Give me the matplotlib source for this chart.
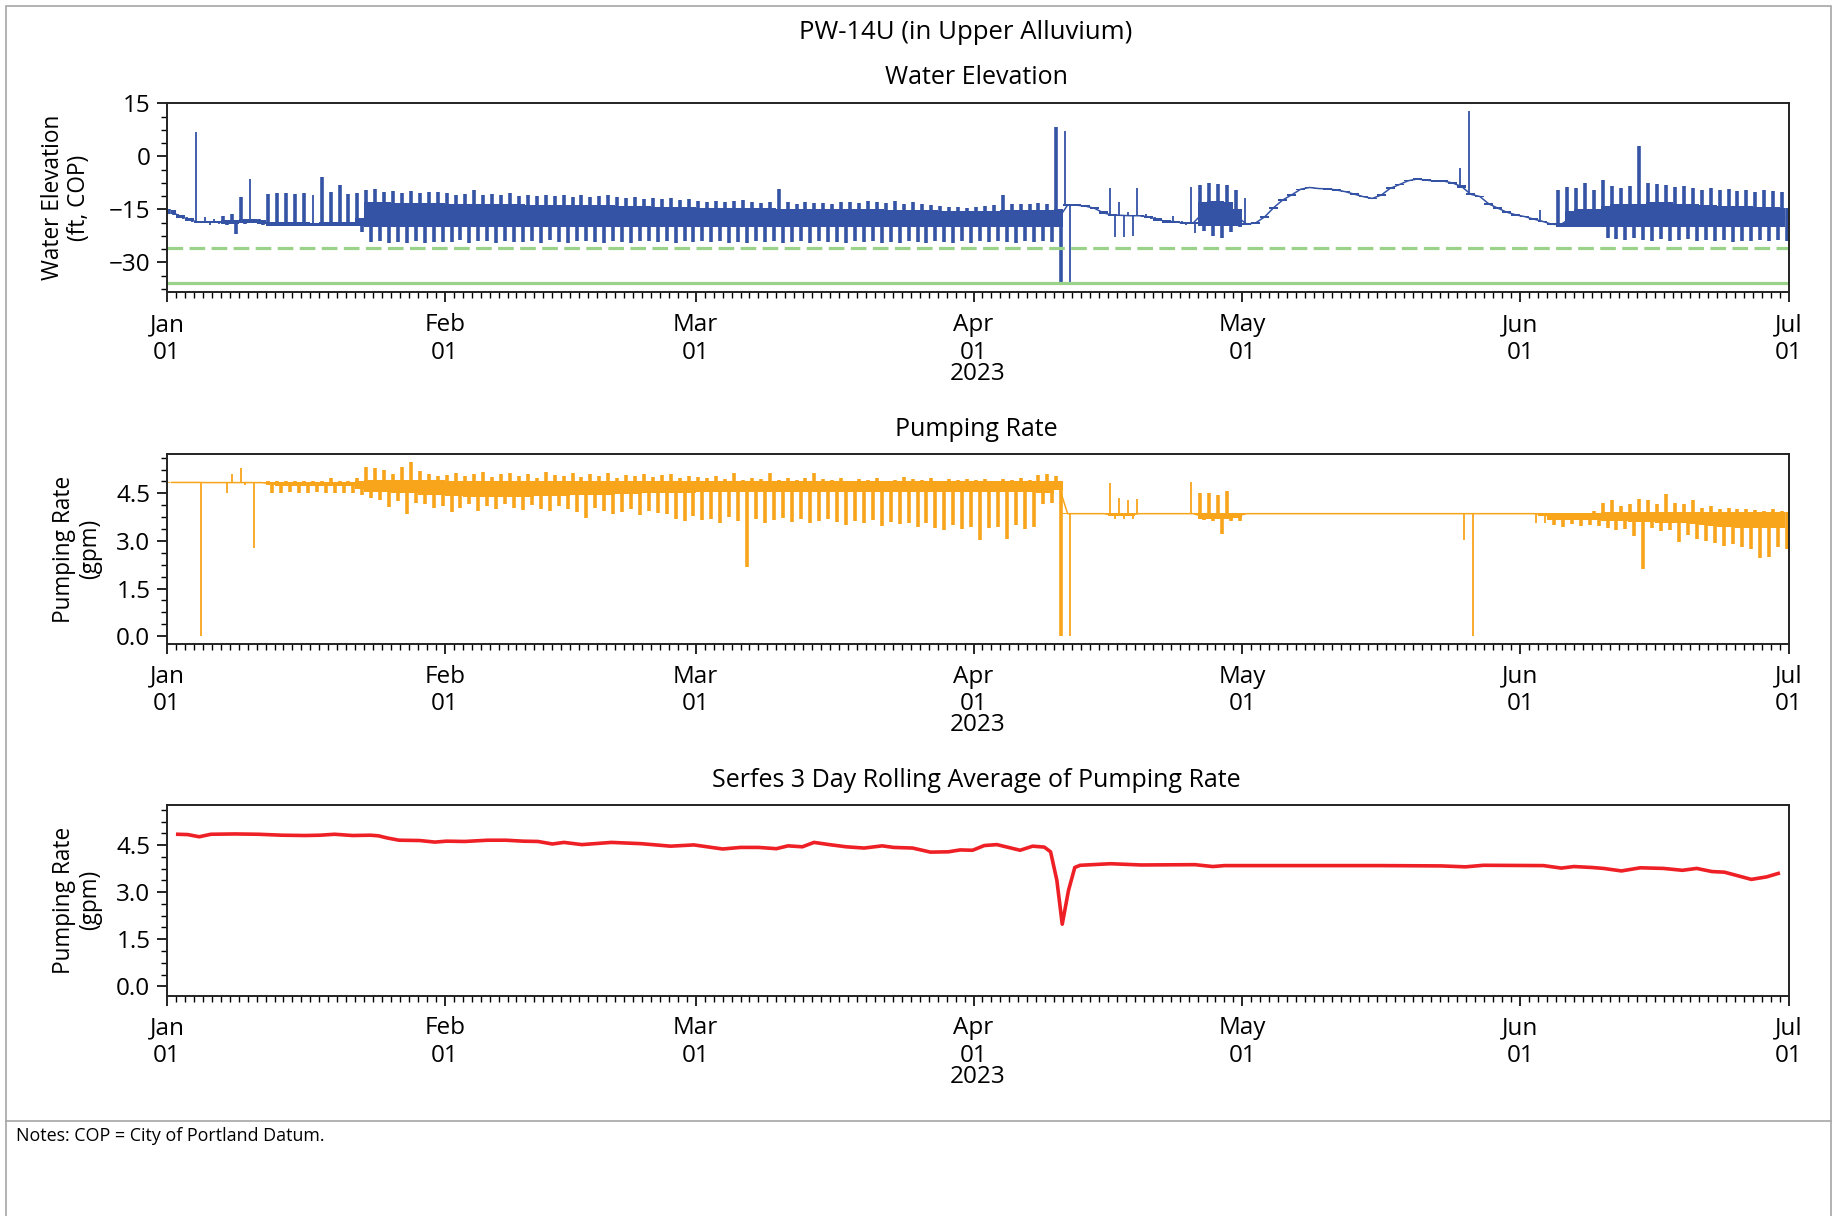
import matplotlib
matplotlib.use('Agg')
import matplotlib.pyplot as plt
import matplotlib.dates as mdates
from matplotlib.ticker import AutoMinorLocator, MultipleLocator
from matplotlib.patches import Rectangle
from matplotlib.lines import Line2D
import numpy as np

plt.rcParams['font.family'] = ['Open Sans', 'DejaVu Sans']

# ---- daily water elevation (ft, COP), Jan 1 .. Jun 30 2023 ----
# hi / lo = daily max / min, core = dense band where the trace sits most of the time
we_hi = [
    # Jan
    -15.0, -16.3, -17.3, 6.8, -17.2, -17.6, -17.0, -16.2, -11.4, -6.5,
    -17.6, -10.6, -10.3, -10.4, -10.6, -10.5, -11.0, -5.9, -10.2, -8.1,
    -10.6, -10.4, -9.6, -9.3, -10.0, -9.8, -10.3, -9.9, -10.5, -10.0, -10.2,
    # Feb
    -10.5, -10.9, -10.6, -9.5, -10.8, -10.7, -11.0, -10.4, -11.1, -10.8,
    -11.2, -10.9, -11.3, -11.0, -11.4, -10.9, -11.5, -11.2, -10.8, -11.6,
    -11.8, -11.5, -12.0, -11.7, -12.1, -11.9, -12.3, -12.0,
    # Mar
    -12.6, -12.9, -12.5, -13.0, -12.7, -12.3, -12.9, -13.2, -12.8, -9.3,
    -13.0, -13.4, -12.9, -13.3, -13.1, -13.5, -13.0, -12.8, -13.2, -12.6,
    -12.9, -13.3, -12.7, -13.4, -13.0, -13.6, -13.8, -14.1, -14.4, -14.2, -14.5,
    # Apr
    -14.3, -14.0, -13.8, -10.9, -13.6, -13.4, -13.5, -13.3, -13.6, 8.4,
    7.1, -13.6, -13.9, -14.4, -15.6, -9.0, -12.8, -15.8, -9.0, -16.4,
    -17.3, -17.9, -17.0, -18.3, -8.6, -8.0, -7.6, -7.8, -8.2, -9.5,
    # May
    -11.9, -18.5, -16.8, -14.2, -12.1, -10.7, -9.1, -8.6, -8.9, -9.0,
    -9.3, -9.8, -10.5, -11.2, -11.7, -10.7, -8.8, -7.8, -6.7, -6.2,
    -6.5, -6.8, -6.8, -7.3, -3.2, 12.8, -11.1, -13.2, -14.4, -15.6, -16.3,
    # Jun
    -16.8, -17.5, -15.2, -18.9, -9.5, -8.6, -9.0, -7.6, -9.5, -6.7,
    -8.4, -9.0, -8.5, 2.9, -7.6, -7.8, -8.0, -8.6, -8.3, -8.9,
    -9.4, -9.0, -9.6, -9.2, -9.9, -9.5, -10.1, -9.6, -9.8, -10.2,
]
we_lo = [
    -16.5, -17.6, -18.6, -19.0, -19.3, -19.2, -19.4, -22.0, -19.2, -19.0,
    -19.4, -19.7, -19.8, -19.8, -19.8, -19.7, -19.7, -19.8, -19.8, -19.8,
    -19.8, -21.5, -24.2, -24.0, -24.5, -24.3, -24.4, -24.0, -24.6, -24.2, -24.3,
    -24.2, -23.8, -24.4, -24.1, -24.0, -24.5, -23.9, -24.2, -24.3, -24.0,
    -24.4, -23.8, -24.2, -24.5, -24.1, -24.0, -24.3, -24.4, -24.0, -24.2,
    -24.5, -24.1, -23.9, -24.3, -24.0, -24.4, -24.1, -24.2,
    -24.1, -24.3, -24.0, -24.4, -24.2, -24.5, -24.0, -24.3, -24.1, -24.4,
    -24.2, -24.0, -24.5, -24.1, -24.3, -24.2, -24.4, -24.0, -24.3, -24.1,
    -24.5, -24.2, -24.4, -24.0, -24.3, -24.6, -24.1, -24.2, -24.5, -24.0, -24.4,
    -24.1, -24.3, -24.0, -24.2, -24.4, -24.0, -24.3, -24.1, -24.2, -35.5,
    -35.5, -14.0, -14.3, -15.0, -16.4, -22.7, -22.7, -22.6, -17.2, -17.6,
    -18.4, -19.0, -19.0, -19.4, -21.8, -21.0, -22.5, -23.2, -21.5, -20.0,
    -19.4, -19.1, -17.4, -14.8, -12.6, -11.1, -9.5, -9.0, -9.3, -9.4,
    -9.7, -10.2, -10.9, -11.6, -12.1, -11.2, -9.3, -8.2, -7.1, -6.6,
    -6.9, -7.2, -7.2, -7.8, -9.0, -11.0, -11.6, -13.7, -14.9, -16.0, -16.8,
    -17.3, -18.0, -18.6, -19.5, -19.9, -19.9, -19.9, -19.9, -19.9, -23.2,
    -23.5, -23.8, -23.2, -23.6, -23.9, -23.4, -24.0, -23.7, -23.5, -24.1,
    -23.8, -24.0, -23.6, -24.2, -23.9, -24.1, -23.7, -24.0, -23.8, -24.1,
]
we_core_hi = [
    -15.2, -16.5, -17.5, -18.3, -18.2, -18.2, -18.0, -18.0, -17.8, -17.8,
    -18.0, -18.5, -18.5, -18.5, -18.5, -18.5, -18.8, -18.5, -18.5, -18.5,
    -18.5, -17.5, -13.0, -13.0, -13.0, -13.2, -13.2, -13.2, -13.3, -13.3, -13.3,
    -13.5, -13.5, -13.5, -13.5, -13.5, -13.6, -13.6, -13.6, -13.6, -13.7,
    -13.7, -13.7, -13.8, -13.8, -13.8, -13.8, -13.9, -13.9, -13.9, -14.0,
    -14.0, -14.0, -14.0, -14.2, -14.2, -14.2, -14.3, -14.3,
    -14.5, -14.5, -14.5, -14.6, -14.6, -14.6, -14.7, -14.7, -14.7, -14.8,
    -14.8, -14.8, -14.9, -14.9, -14.9, -15.0, -15.0, -15.0, -15.0, -15.0,
    -15.0, -15.1, -15.1, -15.1, -15.2, -15.2, -15.3, -15.4, -15.5, -15.5, -15.6,
    -15.6, -15.5, -15.4, -15.3, -15.2, -15.2, -15.2, -15.2, -15.2, -15.0,
    -13.6, -13.6, -13.9, -14.4, -15.6, -16.4, -16.5, -16.6, -16.6, -16.8,
    -17.5, -18.0, -18.2, -18.6, -18.6, -13.0, -12.5, -12.5, -13.0, -15.0,
    -19.0, -18.5, -16.8, -14.2, -12.1, -10.7, -9.1, -8.6, -8.9, -9.0,
    -9.3, -9.8, -10.5, -11.2, -11.7, -10.7, -8.8, -7.8, -6.7, -6.2,
    -6.5, -6.8, -6.8, -7.3, -8.2, -10.5, -11.1, -13.2, -14.4, -15.6, -16.3,
    -16.8, -17.5, -18.2, -18.9, -18.8, -15.5, -15.0, -15.0, -15.0, -14.0,
    -13.5, -13.5, -13.5, -13.5, -13.0, -13.0, -13.0, -13.5, -13.5, -13.5,
    -13.8, -13.8, -14.0, -14.0, -14.1, -14.1, -14.3, -14.3, -14.3, -14.5,
]
we_core_lo = [
    -16.3, -17.4, -18.4, -18.9, -19.0, -19.0, -19.2, -19.2, -19.0, -18.8,
    -19.2, -19.6, -19.6, -19.6, -19.6, -19.6, -19.6, -19.6, -19.6, -19.6,
    -19.6, -19.8, -20.0, -20.0, -20.0, -20.0, -20.0, -20.0, -20.0, -20.0, -20.0,
    -20.0, -20.0, -20.0, -20.0, -20.0, -20.0, -20.0, -20.0, -20.0, -20.0,
    -20.0, -20.0, -20.0, -20.0, -20.0, -20.0, -20.0, -20.0, -20.0, -20.0,
    -20.0, -20.0, -20.0, -20.0, -20.0, -20.0, -20.0, -20.0,
    -20.0, -20.0, -20.0, -20.0, -20.0, -20.0, -20.0, -20.0, -20.0, -20.0,
    -20.0, -20.0, -20.0, -20.0, -20.0, -20.0, -20.0, -20.0, -20.0, -20.0,
    -20.0, -20.0, -20.0, -20.0, -20.0, -20.0, -20.0, -20.0, -20.0, -20.0, -20.0,
    -20.0, -20.0, -20.0, -20.0, -20.0, -20.0, -20.0, -20.0, -20.0, -20.0,
    -14.0, -14.0, -14.3, -15.0, -16.4, -16.8, -16.9, -17.0, -17.0, -17.4,
    -18.2, -18.8, -18.8, -19.2, -19.2, -19.6, -19.8, -19.8, -19.8, -19.6,
    -19.4, -19.1, -17.4, -14.8, -12.6, -11.1, -9.5, -9.0, -9.3, -9.4,
    -9.7, -10.2, -10.9, -11.6, -12.1, -11.2, -9.3, -8.2, -7.1, -6.6,
    -6.9, -7.2, -7.2, -7.8, -9.0, -11.0, -11.6, -13.7, -14.9, -16.0, -16.8,
    -17.3, -18.0, -18.6, -19.5, -19.9, -19.9, -19.9, -19.9, -19.9, -20.0,
    -20.0, -20.0, -20.0, -20.0, -20.0, -20.0, -20.0, -20.0, -20.0, -20.0,
    -20.0, -20.0, -20.0, -20.0, -20.0, -20.0, -20.0, -20.0, -20.0, -20.0,
]

# reference elevations drawn as horizontal lines
dashed_level = -25.9
solid_level = -35.9

# ---- daily pumping rate (gpm) ----
pr_hi = [
    4.86, 4.86, 4.86, 4.86, 4.86, 4.86, 4.86, 5.10, 5.29, 4.86,
    4.86, 4.88, 4.88, 4.89, 4.88, 4.88, 4.89, 4.90, 4.97, 4.89,
    4.90, 5.00, 5.34, 5.30, 5.25, 5.10, 5.34, 5.48, 5.20, 5.10, 5.05,
    5.08, 5.15, 5.05, 5.12, 5.18, 5.02, 5.10, 5.14, 5.06, 5.12,
    5.00, 5.16, 5.08, 5.04, 5.15, 5.02, 5.10, 5.06, 5.13, 5.00,
    5.08, 5.05, 5.12, 5.02, 5.07, 5.10, 5.00, 5.05,
    5.02, 4.98, 5.05, 4.95, 5.13, 4.92, 5.00, 4.95, 5.15, 4.93,
    4.98, 4.92, 5.00, 5.13, 4.95, 4.92, 4.98, 4.90, 4.95, 4.92,
    4.97, 4.90, 4.93, 5.03, 4.95, 4.92, 4.98, 4.90, 4.94, 4.92, 4.96,
    4.92, 4.95, 4.90, 4.96, 4.92, 4.98, 4.93, 5.08, 5.12, 5.05,
    3.87, 3.87, 3.87, 3.87, 3.87, 4.82, 4.34, 4.30, 4.31, 3.87,
    3.87, 3.87, 3.87, 3.87, 4.85, 4.50, 4.50, 4.45, 4.58, 3.87,
    3.87, 3.87, 3.87, 3.87, 3.87, 3.87, 3.87, 3.87, 3.87, 3.87,
    3.87, 3.87, 3.87, 3.87, 3.87, 3.87, 3.87, 3.87, 3.87, 3.87,
    3.87, 3.87, 3.87, 3.87, 3.87, 3.87, 3.87, 3.87, 3.87, 3.87, 3.87,
    3.87, 3.87, 3.87, 3.87, 3.87, 3.87, 3.88, 3.87, 3.95, 4.20,
    4.29, 4.10, 4.15, 4.32, 4.29, 4.15, 4.48, 4.20, 4.15, 4.30,
    4.05, 4.10, 4.00, 4.05, 4.00, 4.02, 3.98, 3.95, 4.00, 3.95,
]
pr_lo = [
    4.83, 4.83, 4.83, 0.00, 4.82, 4.82, 4.52, 4.82, 4.76, 2.79,
    4.82, 4.52, 4.50, 4.55, 4.52, 4.50, 4.53, 4.50, 4.52, 4.50,
    4.52, 4.45, 4.35, 4.30, 4.08, 4.25, 3.85, 4.20, 4.15, 4.05, 4.10,
    3.90, 4.05, 4.15, 3.95, 4.10, 4.00, 4.18, 4.05, 3.98, 4.12,
    4.02, 3.95, 4.10, 4.00, 3.92, 3.71, 4.05, 3.95, 3.85, 3.90,
    4.00, 3.82, 3.95, 3.88, 3.85, 3.70, 3.62, 3.80,
    3.65, 3.70, 3.55, 3.75, 3.62, 2.19, 3.70, 3.58, 3.66, 3.72,
    3.60, 3.68, 3.55, 3.64, 3.70, 3.60, 3.50, 3.62, 3.55, 3.66,
    3.48, 3.60, 3.52, 3.58, 3.45, 3.55, 3.40, 3.34, 3.50, 3.38, 3.45,
    3.03, 3.40, 3.45, 3.05, 3.50, 3.38, 3.45, 4.18, 4.20, 0.00,
    0.00, 3.85, 3.85, 3.85, 3.85, 3.68, 3.68, 3.70, 3.85, 3.85,
    3.85, 3.85, 3.85, 3.85, 3.85, 3.66, 3.64, 3.22, 3.64, 3.64,
    3.85, 3.85, 3.85, 3.85, 3.85, 3.85, 3.85, 3.85, 3.85, 3.85,
    3.85, 3.85, 3.85, 3.85, 3.85, 3.85, 3.85, 3.85, 3.85, 3.85,
    3.85, 3.85, 3.85, 3.85, 3.03, 0.00, 3.85, 3.85, 3.85, 3.85, 3.85,
    3.85, 3.57, 3.57, 3.50, 3.45, 3.52, 3.48, 3.50, 3.46, 3.40,
    3.35, 3.38, 3.15, 2.10, 3.40, 3.30, 3.35, 2.97, 3.20, 3.05,
    3.00, 2.95, 2.85, 2.90, 2.80, 2.73, 2.47, 2.50, 2.80, 2.73,
]
pr_core_hi = [
    4.86, 4.86, 4.86, 4.86, 4.86, 4.86, 4.86, 4.86, 4.86, 4.86,
    4.86, 4.87, 4.87, 4.87, 4.87, 4.87, 4.87, 4.87, 4.87, 4.87,
    4.87, 4.90, 4.92, 4.92, 4.92, 4.92, 4.92, 4.92, 4.92, 4.92, 4.92,
    4.90, 4.90, 4.90, 4.90, 4.90, 4.90, 4.90, 4.90, 4.90, 4.90,
    4.90, 4.90, 4.90, 4.90, 4.90, 4.90, 4.90, 4.90, 4.90, 4.90,
    4.90, 4.90, 4.90, 4.90, 4.90, 4.90, 4.90, 4.90,
    4.90, 4.90, 4.90, 4.90, 4.90, 4.90, 4.90, 4.90, 4.90, 4.90,
    4.90, 4.90, 4.90, 4.90, 4.90, 4.90, 4.90, 4.90, 4.90, 4.90,
    4.90, 4.90, 4.90, 4.90, 4.90, 4.90, 4.90, 4.90, 4.90, 4.90, 4.90,
    4.90, 4.90, 4.90, 4.90, 4.90, 4.90, 4.90, 4.90, 4.90, 4.90,
    3.87, 3.87, 3.87, 3.87, 3.87, 3.87, 3.87, 3.87, 3.87, 3.87,
    3.87, 3.87, 3.87, 3.87, 3.87, 3.87, 3.87, 3.87, 3.87, 3.87,
    3.87, 3.87, 3.87, 3.87, 3.87, 3.87, 3.87, 3.87, 3.87, 3.87,
    3.87, 3.87, 3.87, 3.87, 3.87, 3.87, 3.87, 3.87, 3.87, 3.87,
    3.87, 3.87, 3.87, 3.87, 3.87, 3.87, 3.87, 3.87, 3.87, 3.87, 3.87,
    3.87, 3.87, 3.87, 3.87, 3.87, 3.87, 3.87, 3.87, 3.87, 3.92,
    3.92, 3.92, 3.92, 3.92, 3.92, 3.92, 3.92, 3.92, 3.92, 3.92,
    3.92, 3.92, 3.92, 3.92, 3.92, 3.92, 3.92, 3.92, 3.92, 3.92,
]
pr_core_lo = [
    4.83, 4.83, 4.83, 4.83, 4.82, 4.82, 4.82, 4.82, 4.82, 4.82,
    4.82, 4.75, 4.72, 4.72, 4.72, 4.72, 4.72, 4.72, 4.72, 4.72,
    4.72, 4.65, 4.55, 4.55, 4.55, 4.52, 4.50, 4.50, 4.45, 4.45, 4.45,
    4.42, 4.42, 4.40, 4.40, 4.40, 4.40, 4.40, 4.40, 4.40, 4.40,
    4.42, 4.42, 4.42, 4.42, 4.45, 4.45, 4.45, 4.45, 4.45, 4.48,
    4.48, 4.48, 4.50, 4.50, 4.50, 4.52, 4.52, 4.52,
    4.55, 4.55, 4.55, 4.55, 4.55, 4.55, 4.55, 4.55, 4.55, 4.55,
    4.55, 4.55, 4.55, 4.55, 4.55, 4.55, 4.55, 4.55, 4.55, 4.55,
    4.55, 4.55, 4.55, 4.55, 4.55, 4.55, 4.55, 4.55, 4.55, 4.55, 4.55,
    4.55, 4.55, 4.55, 4.55, 4.55, 4.55, 4.55, 4.50, 4.50, 4.60,
    3.85, 3.85, 3.85, 3.85, 3.85, 3.78, 3.78, 3.78, 3.85, 3.85,
    3.85, 3.85, 3.85, 3.85, 3.85, 3.70, 3.70, 3.70, 3.70, 3.72,
    3.85, 3.85, 3.85, 3.85, 3.85, 3.85, 3.85, 3.85, 3.85, 3.85,
    3.85, 3.85, 3.85, 3.85, 3.85, 3.85, 3.85, 3.85, 3.85, 3.85,
    3.85, 3.85, 3.85, 3.85, 3.85, 3.85, 3.85, 3.85, 3.85, 3.85, 3.85,
    3.85, 3.85, 3.80, 3.65, 3.65, 3.65, 3.65, 3.65, 3.65, 3.62,
    3.62, 3.62, 3.60, 3.60, 3.60, 3.58, 3.58, 3.55, 3.55, 3.52,
    3.50, 3.48, 3.45, 3.45, 3.42, 3.40, 3.40, 3.40, 3.40, 3.40,
]

# ---- Serfes 3-day rolling average (days after Jan 1, gpm) ----
ra_day = [1.2, 2.3, 3.6, 4.9, 7.6, 10.2, 12.8, 15.4, 17.1, 18.7,
          20.7, 22.7, 23.6, 24.6, 25.9, 28.2, 29.9, 31.2, 33.2, 35.8,
          37.8, 39.7, 41.4, 43.0, 44.3, 46.3, 49.6, 52.9, 56.2, 58.8,
          62.0, 64.0, 66.0, 68.0, 69.3, 70.9, 72.2, 73.9, 75.8, 77.8,
          79.8, 81.1, 83.2, 85.2, 87.2, 88.5, 89.9, 91.2, 92.6, 95.2,
          96.6, 97.9, 98.6, 99.3, 99.9, 100.6, 101.3, 101.9, 105.3, 108.7,
          114.7, 116.7, 118.0, 122.1, 128.8, 135.5, 142.2, 144.9, 146.9, 153.6,
          155.6, 157.0, 159.0, 160.3, 162.3, 164.4, 167.0, 169.1, 170.7, 172.4,
          173.8, 176.8, 178.5, 179.8]
ra_val = [4.85, 4.84, 4.77, 4.85, 4.86, 4.85, 4.82, 4.81, 4.82, 4.85,
          4.81, 4.82, 4.80, 4.73, 4.66, 4.65, 4.60, 4.63, 4.62, 4.66,
          4.66, 4.63, 4.62, 4.54, 4.59, 4.52, 4.59, 4.55, 4.47, 4.51,
          4.38, 4.43, 4.43, 4.39, 4.48, 4.45, 4.59, 4.52, 4.45, 4.41,
          4.48, 4.43, 4.41, 4.28, 4.29, 4.35, 4.34, 4.49, 4.52, 4.34,
          4.47, 4.44, 4.29, 3.38, 1.98, 3.06, 3.79, 3.86, 3.91, 3.87,
          3.88, 3.82, 3.85, 3.85, 3.85, 3.85, 3.84, 3.81, 3.86, 3.85,
          3.77, 3.82, 3.79, 3.76, 3.68, 3.78, 3.76, 3.70, 3.76, 3.66,
          3.64, 3.41, 3.49, 3.60]

BLUE = '#3453a5'
ORANGE = '#f8a51c'
RED = '#ee2026'
GREEN = '#9bd28a'

t0 = mdates.date2num(np.datetime64('2023-01-01'))
t1 = mdates.date2num(np.datetime64('2023-07-01'))
day = np.arange(len(we_hi))
xc = t0 + day + 0.5


def draw_band(ax, hi, lo, core_hi, core_lo, color, busy):
    hi, lo = np.array(hi), np.array(lo)
    core_hi, core_lo = np.array(core_hi), np.array(core_lo)
    # days with continuous cycling get wider strokes, isolated spikes stay thin
    lw = np.where(core_hi - core_lo > busy, 2.6, 1.3)
    ax.fill_between(xc, core_lo, core_hi, step='mid', color=color, lw=0)
    ax.vlines(xc - 0.25, core_lo, hi, color=color, linewidths=lw)
    ax.vlines(xc + 0.25, lo, core_hi, color=color, linewidths=lw)
    ax.plot(xc, (core_hi + core_lo) / 2, color=color, lw=1.1)


def style(ax, ylim, step, ylabel, lab_x):
    ax.set_xlim(t0, t1)
    ax.set_ylim(*ylim)
    ax.yaxis.set_major_locator(MultipleLocator(step))
    ax.yaxis.set_minor_locator(AutoMinorLocator())
    ax.xaxis.set_major_locator(mdates.MonthLocator())
    ax.xaxis.set_minor_locator(mdates.DayLocator())
    ax.xaxis.set_major_formatter(mdates.DateFormatter('%b\n%d'))
    ax.tick_params(which='major', length=7, width=1.2, labelsize=17.5)
    ax.tick_params(axis='x', which='major', pad=8)
    ax.tick_params(axis='y', which='major', pad=5)
    ax.tick_params(which='minor', length=4, width=1.0)
    for s in ax.spines.values():
        s.set_linewidth(1.4)
        s.set_color('#222222')
    ax.set_ylabel(ylabel, fontsize=16.3, linespacing=1.1)
    ax.yaxis.set_label_coords(lab_x, 0.5)
    ax.set_xlabel('2023', fontsize=17.5)
    ax.xaxis.set_label_coords(0.5, -0.365)


fig = plt.figure(figsize=(18.43, 12.16), dpi=100)
L, W = 167 / 1843, 1622 / 1843
ax1 = fig.add_axes([L, 0.7596, W, 0.1559])
ax2 = fig.add_axes([L, 0.4704, W, 0.1562])
ax3 = fig.add_axes([L, 0.1812, W, 0.1567])

# water elevation
draw_band(ax1, we_hi, we_lo, we_core_hi, we_core_lo, BLUE, 1.0)
ax1.axhline(dashed_level, color=GREEN, lw=2.3, dashes=(4.9, 2.0))
ax1.axhline(solid_level, color=GREEN, lw=2.3)
style(ax1, (-38.5, 15.2), 15, 'Water Elevation\n(ft, COP)', -0.047)

# pumping rate
draw_band(ax2, pr_hi, pr_lo, pr_core_hi, pr_core_lo, ORANGE, 0.1)
style(ax2, (-0.25, 5.74), 1.5, 'Pumping Rate\n(gpm)', -0.040)

# rolling average
ax3.plot(t0 + np.array(ra_day), ra_val, color=RED, lw=2.6)
style(ax3, (-0.3, 5.78), 1.5, 'Pumping Rate\n(gpm)', -0.040)

fig.text(0.524, 0.9729, 'PW-14U (in Upper Alluvium)', ha='center', va='center', fontsize=18.5)
fig.text(0.530, 0.9362, 'Water Elevation', ha='center', va='center', fontsize=18)
fig.text(0.530, 0.6472, 'Pumping Rate', ha='center', va='center', fontsize=18)
fig.text(0.530, 0.3581, 'Serfes 3 Day Rolling Average of Pumping Rate', ha='center', va='center', fontsize=18)

# frame and notes box
fig.add_artist(Rectangle((6 / 1843, -0.01), 1825 / 1843, 1.01 - 6 / 1216,
                         transform=fig.transFigure, fill=False, ec='#a6a6a6', lw=1.2))
fig.add_artist(Line2D([6 / 1843, 1831 / 1843], [1 - 1121 / 1216] * 2,
                      transform=fig.transFigure, color='#a6a6a6', lw=1.2))
fig.text(16 / 1843, 1 - 1136 / 1216, 'Notes: COP = City of Portland Datum.', fontsize=12.9, va='center')

fig.savefig('out.png', dpi=100)
